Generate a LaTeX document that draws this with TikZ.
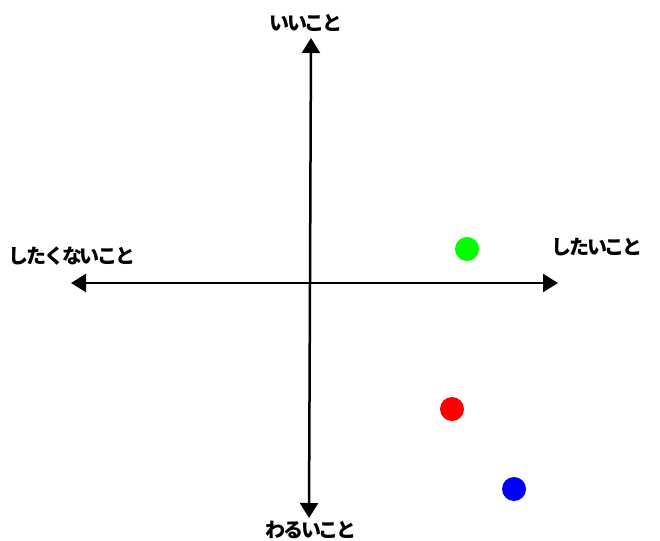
\documentclass[tikz,border=0pt]{standalone}
\usepackage{fontspec}
\newfontfamily\jp{Noto Sans CJK JP}[LetterSpace=-11]
\usetikzlibrary{arrows.meta}

\begin{document}
\begin{tikzpicture}[x=1pt, y=-1pt,
    axis/.style={line width=2.5pt, -{Triangle[width=18pt,length=15pt]}},
    lbl/.style={font=\jp\bfseries\fontsize{20}{22}\selectfont, inner sep=0pt},
    dot/.style={circle, minimum size=24pt, inner sep=0pt}]
    \useasboundingbox (0,0) rectangle (660,540);
    \coordinate (O) at (310,283);
    \coordinate (top) at (311,38);
    \coordinate (bot) at (309,518);
    \coordinate (lft) at (71,283);
    \coordinate (rgt) at (558,283);
    \draw[axis] (O) -- (top);
    \draw[axis] (O) -- (bot);
    \draw[axis] (O) -- (lft);
    \draw[axis] (O) -- (rgt);
    \node[lbl] (good) at (306,23) {いいこと};
    \node[lbl] (bad) at (311,530) {わるいこと};
    \node[lbl] (dislike) at (72,256) {したくないこと};
    \node[lbl] (like) at (597,247) {したいこと};
    \node[dot, fill={rgb,255:red,0;green,255;blue,0}] (g) at (467,249) {};
    \node[dot, fill=red] (r) at (452,409) {};
    \node[dot, fill=blue] (b) at (514,489) {};
\end{tikzpicture}
\end{document}
